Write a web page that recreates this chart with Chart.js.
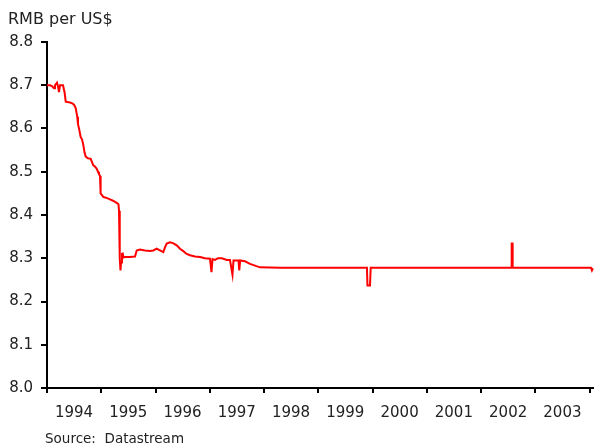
<!DOCTYPE html>
<html>
<head>
<meta charset="utf-8">
<script src="https://cdn.jsdelivr.net/npm/chart.js@4/dist/chart.umd.min.js"></script>
<style>
  body { margin: 0; background: #fff; }
  #wrap { position: relative; width: 594px; height: 445px; }
  #title { position: absolute; left: 8px; top: 11px; font: 16px/16px "DejaVu Sans", sans-serif; color: #222; }
  #source { position: absolute; left: 45px; top: 432px; font: 13.5px/13.5px "DejaVu Sans", sans-serif; color: #222; white-space: pre; }
</style>
</head>
<body>
<div id="wrap">
  <canvas id="chart" width="594" height="445"></canvas>
  <div id="title">RMB per US$</div>
  <div id="source">Source:  Datastream</div>
</div>
<script>
// Data (decimal years, RMB per US$)
const dates = [
  1994.000, 1994.055, 1994.092, 1994.129, 1994.147, 1994.184, 1994.203, 1994.221, 1994.240, 1994.295,
  1994.326, 1994.345, 1994.424, 1994.466, 1994.498, 1994.529, 1994.558, 1994.571, 1994.590, 1994.621,
  1994.645, 1994.669, 1994.691, 1994.713, 1994.755, 1994.805, 1994.853, 1994.884, 1994.916, 1994.940,
  1994.958, 1994.977, 1994.986, 1994.990, 1995.037, 1995.087, 1995.161, 1995.216, 1995.284, 1995.317,
  1995.327, 1995.336, 1995.345, 1995.354, 1995.364, 1995.382, 1995.395, 1995.410, 1995.437, 1995.529,
  1995.622, 1995.653, 1995.714, 1995.806, 1995.898, 1995.959, 1996.021, 1996.082, 1996.143, 1996.174,
  1996.206, 1996.266, 1996.322, 1996.390, 1996.451, 1996.506, 1996.574, 1996.635, 1996.727, 1996.819,
  1996.911, 1997.003, 1997.031, 1997.050, 1997.096, 1997.151, 1997.225, 1997.311, 1997.372, 1997.418,
  1997.437, 1997.529, 1997.543, 1997.560, 1997.648, 1997.741, 1997.833, 1997.925, 1998.293, 1999.896,
  1999.905, 1999.952, 1999.965, 2002.560, 2002.563, 2002.578, 2002.581, 2004.024, 2004.042, 2004.061
];
const rates = [
  8.700, 8.700, 8.698, 8.693, 8.700, 8.706, 8.697, 8.684, 8.700, 8.700,
  8.682, 8.662, 8.660, 8.658, 8.655, 8.647, 8.627, 8.610, 8.600, 8.580,
  8.575, 8.562, 8.545, 8.535, 8.531, 8.530, 8.515, 8.512, 8.507, 8.500,
  8.495, 8.490, 8.460, 8.450, 8.442, 8.440, 8.436, 8.433, 8.428, 8.425,
  8.410, 8.360, 8.300, 8.272, 8.290, 8.310, 8.311, 8.302, 8.303, 8.303,
  8.304, 8.318, 8.320, 8.318, 8.317, 8.318, 8.322, 8.318, 8.314, 8.325,
  8.334, 8.337, 8.335, 8.330, 8.322, 8.317, 8.310, 8.307, 8.304, 8.303,
  8.300, 8.299, 8.268, 8.298, 8.296, 8.300, 8.300, 8.296, 8.296, 8.262,
  8.295, 8.295, 8.272, 8.295, 8.293, 8.287, 8.283, 8.279, 8.278, 8.278,
  8.237, 8.237, 8.278, 8.278, 8.334, 8.334, 8.278, 8.278, 8.272, 8.277
];
const yearTicks = [1994, 1995, 1996, 1997, 1998, 1999, 2000, 2001, 2002, 2003, 2004];
const yearLabels = ['1994', '1995', '1996', '1997', '1998', '1999', '2000', '2001', '2002', '2003', ''];

Chart.defaults.font.family = '"DejaVu Sans", sans-serif';
Chart.defaults.color = '#222';

const points = dates.map((d, i) => ({ x: d, y: rates[i] }));

new Chart(document.getElementById('chart'), {
  type: 'line',
  data: {
    datasets: [{
      data: points,
      borderColor: '#ff0000',
      borderWidth: 2,
      pointRadius: 0,
      tension: 0,
      fill: false
    }]
  },
  options: {
    responsive: false,
    animation: false,
    layout: { padding: { top: 42, right: 0, bottom: 0, left: 0 } },
    plugins: { legend: { display: false }, tooltip: { enabled: false } },
    scales: {
      x: {
        type: 'linear',
        min: 1994,
        max: 2004.08,
        afterBuildTicks: (scale) => { scale.ticks = yearTicks.map(v => ({ value: v })); },
        afterFit: (scale) => {
          scale.height = 57;
          scale.paddingLeft = 0;
          scale.paddingRight = 0;
        },
        ticks: {
          autoSkip: false,
          maxRotation: 0,
          padding: 11,
          labelOffset: 27,
          font: { size: 15 },
          callback: (v) => yearLabels[yearTicks.indexOf(v)]
        },
        grid: { drawOnChartArea: false, color: '#000', lineWidth: 2, tickLength: 5 },
        border: { color: '#000', width: 2 }
      },
      y: {
        min: 8.0,
        max: 8.8,
        afterFit: (scale) => { scale.width = 47; },
        ticks: {
          stepSize: 0.1,
          padding: 8,
          font: { size: 15 },
          callback: (v) => v.toFixed(1)
        },
        grid: { drawOnChartArea: false, color: '#000', lineWidth: 2, tickLength: 6 },
        border: { color: '#000', width: 2 }
      }
    }
  }
});
</script>
</body>
</html>
